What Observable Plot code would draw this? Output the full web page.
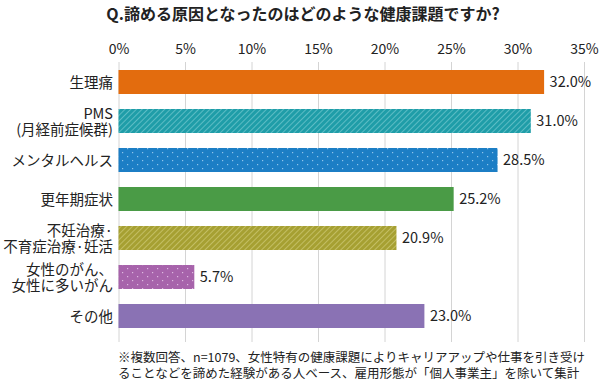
<!DOCTYPE html>
<html><head><meta charset="utf-8">
<script src="https://cdn.jsdelivr.net/npm/d3@7"></script>
<script src="https://cdn.jsdelivr.net/npm/@observablehq/plot@0.6"></script>
<style>
body{margin:0;background:#fff;font-family:"Noto Sans CJK JP","Noto Sans",sans-serif;color:#222;width:600px;height:383px;overflow:hidden;}
#title{height:30px;line-height:27px;font-size:16px;font-weight:bold;text-align:center;padding-left:6px;white-space:nowrap;color:#222;}
#caption{margin-left:118px;font-size:12.5px;line-height:16px;white-space:nowrap;color:#222;}
</style></head><body>
<div id="title">Q.諦める原因となったのはどのような健康課題ですか?</div>
<div id="chart"></div>
<div id="caption">※複数回答、n=1079、女性特有の健康課題によりキャリアアップや仕事を引き受け<br>ることなどを諦めた経験がある人ベース、雇用形態が「個人事業主」を除いて集計</div>
<script>
const categories = ["生理痛", "PMS\n(月経前症候群)", "メンタルヘルス", "更年期症状", "不妊治療·\n不育症治療·妊活", "女性のがん、\n女性に多いがん", "その他"];
const values = [32.0, 31.0, 28.5, 25.2, 20.9, 5.7, 23.0];
const xTicks = [0, 5, 10, 15, 20, 25, 30, 35];
const fills = ["#E36C0E", "url(#pTeal)", "url(#pBlue)", "#4A9B46", "url(#pOlive)", "url(#pMagenta)", "#8A72B4"];

const data = categories.map((c, i) => ({cat: c, value: values[i], fill: fills[i]}));

const plot = Plot.plot({
  width: 600,
  height: 319,
  marginTop: 32,
  marginBottom: 7,
  marginLeft: 118.5,
  marginRight: 16,
  style: {fontFamily: '"Noto Sans CJK JP","Noto Sans",sans-serif', fontSize: "14px", color: "#222", background: "#fff"},
  x: {domain: [0, 35], ticks: xTicks},
  y: {domain: categories, range: [22.3, 315.8], padding: 0.384},
  color: {type: "identity"},
  marks: [
    Plot.gridX(xTicks, {stroke: "#d4d4d4", strokeOpacity: 1, strokeWidth: 1}),
    Plot.axisX({anchor: "top", ticks: xTicks, tickSize: 0, tickPadding: 9, tickFormat: d => d + "%", fontSize: 14, label: null}),
    Plot.barX(data, {x: "value", y: "cat", fill: "fill"}),
    Plot.axisY({tickSize: 0, tickPadding: 6, fontSize: 14.5, lineHeight: 1.12, label: null}),
    Plot.text(data, {x: "value", y: "cat", text: d => d.value.toFixed(1) + "%", dx: 5, textAnchor: "start", fontSize: 14.5, fill: "#222"})
  ]
});

const ns = "http://www.w3.org/2000/svg";
const defs = document.createElementNS(ns, "defs");
defs.innerHTML = `
<pattern id="pTeal" patternUnits="userSpaceOnUse" width="4" height="4" patternTransform="rotate(45)">
  <rect width="4" height="4" fill="#1F9DA8"/>
  <line x1="0" y1="0" x2="0" y2="4" stroke="#6CC4CB" stroke-width="1.6"/>
</pattern>
<pattern id="pOlive" patternUnits="userSpaceOnUse" width="4" height="4" patternTransform="rotate(45)">
  <rect width="4" height="4" fill="#A6A032"/>
  <line x1="0" y1="0" x2="0" y2="4" stroke="#CBC670" stroke-width="1.6"/>
</pattern>
<pattern id="pBlue" patternUnits="userSpaceOnUse" width="10" height="8">
  <rect width="10" height="8" fill="#1C7EC5"/>
  <rect x="2" y="2" width="1.2" height="1.2" fill="#8EC3EA"/>
  <rect x="7" y="6" width="1.2" height="1.2" fill="#8EC3EA"/>
</pattern>
<pattern id="pMagenta" patternUnits="userSpaceOnUse" width="10" height="8">
  <rect width="10" height="8" fill="#A763AB"/>
  <rect x="2" y="2" width="1.2" height="1.2" fill="#DDB8E0"/>
  <rect x="7" y="6" width="1.2" height="1.2" fill="#DDB8E0"/>
</pattern>`;
plot.insertBefore(defs, plot.firstChild);
document.getElementById("chart").appendChild(plot);
</script>
</body></html>
